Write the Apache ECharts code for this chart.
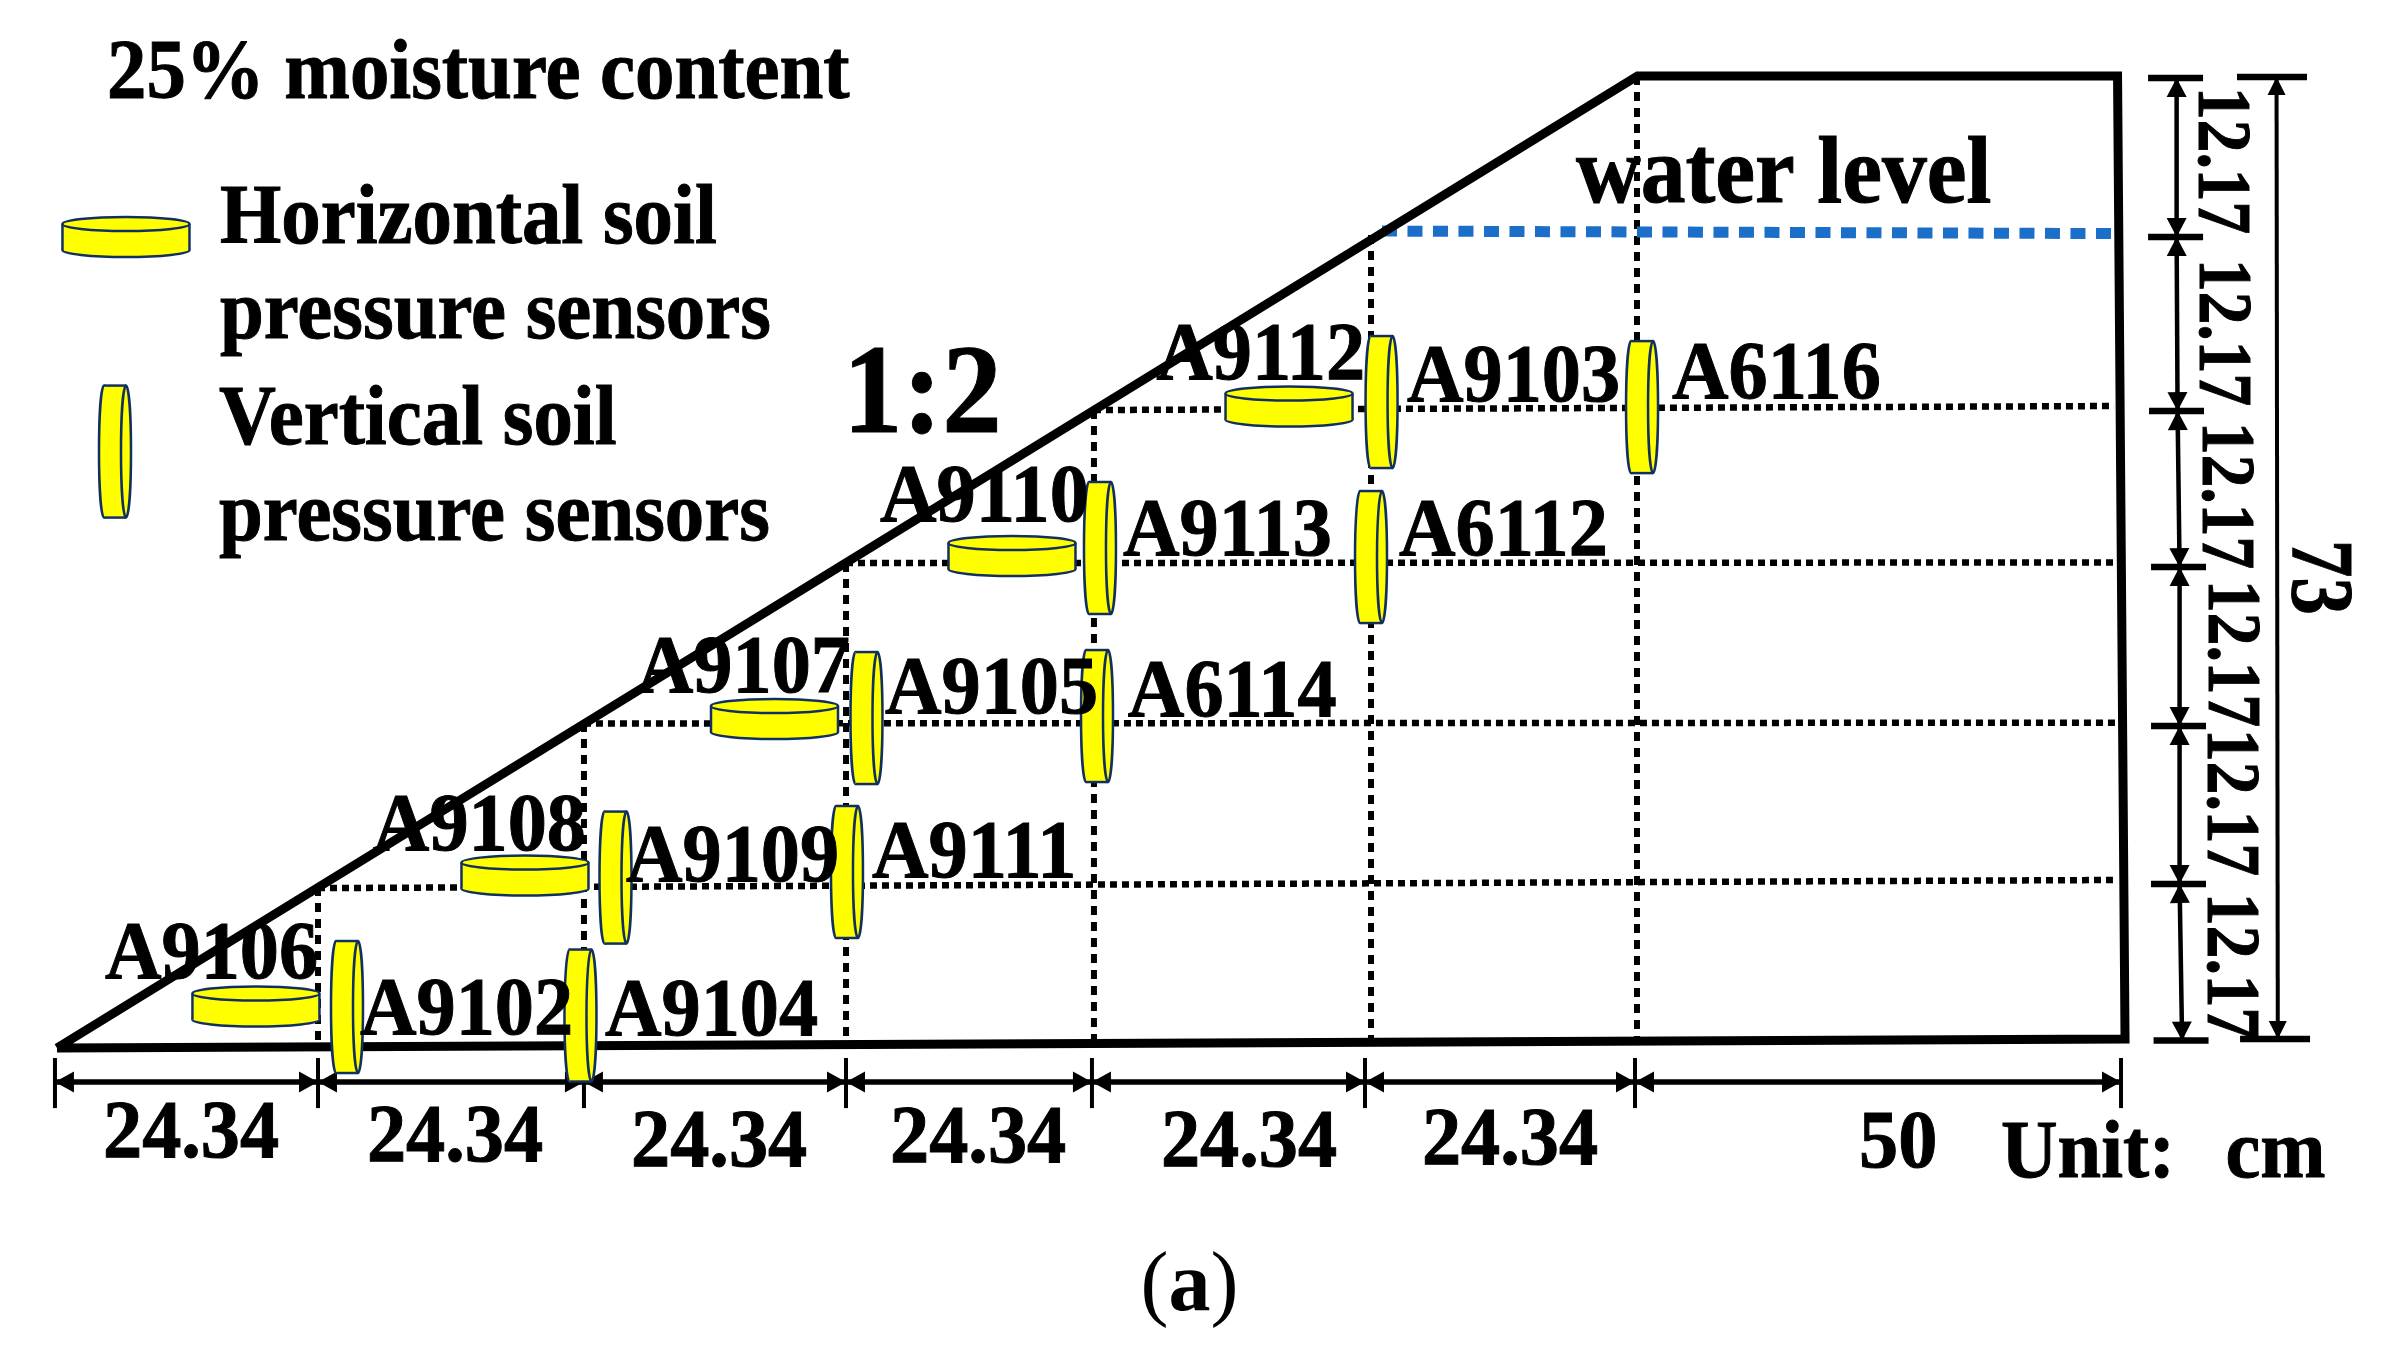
<!DOCTYPE html>
<html>
<head>
<meta charset="utf-8">
<title>Sensor layout</title>
<script src="https://cdn.jsdelivr.net/npm/echarts@6/dist/echarts.min.js"></script>
<style>
  html, body { margin: 0; background: #fff; }
  #chart { width: 2387px; height: 1345px; }
</style>
</head>
<body>
<div id="chart"></div>
<script>
// everything below is in cm
const outline = [[0, 0], [149.81, 72.99], [195.31, 72.99], [196.02, 0.68], [0, 0]];
const stationLines = [
  [24.74, 12.09, 24.74, 0.15], [49.95, 24.4, 49.95, 0.3], [74.79, 36.42, 74.79, 0.45],
  [98.29, 47.91, 98.29, 0.53], [124.55, 61.05, 124.55, 0.6], [149.76, 72.99, 149.76, 0.68],
];
const levelLines = [
  [24.74, 12.01, 195.17, 12.62], [49.95, 24.37, 195.17, 24.43],
  [74.79, 36.42, 195.17, 36.46], [98.29, 47.91, 194.98, 48.21],
];
const waterLine = [[125.59, 61.35, 194.88, 61.16]];

const widthTicks = [-0.19, 24.74, 49.95, 74.79, 98.1, 123.98, 149.57, 195.64];
const widthTickTop = -0.75;
const widthTickBottom = -4.51;
const widthArrowY = -2.55;

const heightBars = [
  [200.81, 72.84], [200.81, 60.9], [200.9, 47.83], [201.09, 36.12],
  [201.09, 24.18], [201.09, 12.32], [201.33, 0.56],
];
const totalBars = [[209.95, 72.91], [210.24, 0.68]];
const totalArrow = [[210.38, 72.91, 210.5, 0.68]];

const horizontalSensors = [
  [6.54, 60.9], [90.52, 36.95], [116.78, 48.17], [68.01, 24.71], [44.36, 12.95], [18.86, 3.12],
];
const verticalSensors = [
  [5.5, 44.79], [98.86, 37.55], [76.73, 24.78], [98.58, 24.93], [125.55, 48.51], [150.24, 48.13],
  [124.55, 36.87], [52.94, 12.8], [74.88, 13.22], [27.49, 3.08], [49.62, 2.44],
];

const legendTexts = [
  [4.74, 71.49, '25% moisture content'],
  [15.45, 60.6, 'Horizontal soil'],
  [15.45, 53.47, 'pressure sensors'],
  [15.36, 45.51, 'Vertical soil'],
  [15.36, 38.3, 'pressure sensors'],
];
const slopeText = [[74.5, 46.56, '1:2']];
const waterText = [[143.98, 63.72, 'water level']];
const sensorTexts = [
  [78.01, 39.72, 'A9110'], [101.04, 37.17, 'A9113'], [127.2, 37.17, 'A6112'],
  [104.2, 50.39, 'A9112'], [127.96, 48.73, 'A9103'], [153.08, 49.0, 'A6116'],
  [54.96, 26.88, 'A9107'], [78.48, 25.31, 'A9105'], [101.5, 25.08, 'A6114'],
  [29.94, 15.02, 'A9108'], [53.93, 12.69, 'A9109'], [77.25, 12.99, 'A9111'],
  [4.55, 5.44, 'A9106'], [28.72, 1.2, 'A9102'], [51.94, 1.13, 'A9104'],
];
const widthTexts = [
  [4.36, -8.0, '24.34'], [29.38, -8.31, '24.34'], [54.41, -8.68, '24.34'],
  [78.96, -8.41, '24.34'], [104.64, -8.71, '24.34'], [129.38, -8.52, '24.34'],
  [170.81, -8.79, '50'],
];
const unitTexts = [[184.27, -9.54, 'Unit:'], [205.55, -9.54, 'cm']];
const heightTexts = [
  [203.22, 72.16, '12.17'], [203.32, 59.25, '12.17'], [203.6, 47.01, '12.17'],
  [204.17, 35.14, '12.17'], [204.08, 23.95, '12.17'], [204.08, 11.64, '12.17'],
];
const totalText = [[212.13, 38.15, '73']];
const captionAt = [102.7, -19.6];

const SERIF = '"Liberation Serif", "Times New Roman", serif';
const YELLOW = '#ffff00';
const NAVY = '#12305f';

// text sits on its baseline; zrender's middle line is about .23em above it here
function textSeries(rows, size, rotation, scaleX) {
  return {
    type: 'custom', clip: false, silent: true, z: 6, data: rows.map((r) => [r[0], r[1]]),
    renderItem(params, api) {
      const row = rows[params.dataIndex];
      const p = api.coord([row[0], row[1]]);
      return {
        type: 'text', x: p[0], y: p[1], rotation: rotation || 0, scaleX: scaleX || 1,
        style: {
          text: row[2], x: 0, y: -0.23 * size, fill: '#000', stroke: '#000', lineWidth: 1,
          font: `bold ${size}px ${SERIF}`, align: 'left', verticalAlign: 'middle',
        },
      };
    },
  };
}

function segmentSeries(rows, lineStyle, z) {
  return {
    type: 'custom', clip: false, silent: true, z: z, data: rows,
    renderItem(params, api) {
      const r = rows[params.dataIndex];
      const a = api.coord([r[0], r[1]]);
      const b = api.coord([r[2], r[3]]);
      return {
        type: 'line',
        shape: { x1: a[0], y1: a[1], x2: b[0], y2: b[1] },
        style: Object.assign({ stroke: '#000', fill: null }, lineStyle),
      };
    },
  };
}

function barSeries(rows, halfWidth) {
  return {
    type: 'custom', clip: false, silent: true, z: 4, data: rows,
    renderItem(params, api) {
      const p = api.coord(rows[params.dataIndex]);
      return {
        type: 'line',
        shape: { x1: p[0] - halfWidth, y1: p[1], x2: p[0] + halfWidth, y2: p[1] },
        style: { stroke: '#000', lineWidth: 6.5 },
      };
    },
  };
}

function arrowSeries(rows, lineWidth, len, wide) {
  return {
    type: 'custom', clip: false, silent: true, z: 4, data: rows,
    renderItem(params, api) {
      const r = rows[params.dataIndex];
      const a = api.coord([r[0], r[1]]);
      const b = api.coord([r[2], r[3]]);
      const d = Math.hypot(b[0] - a[0], b[1] - a[1]);
      const ux = (b[0] - a[0]) / d;
      const uy = (b[1] - a[1]) / d;
      const head = (tip, dir) => {
        const bx = tip[0] + dir * ux * len;
        const by = tip[1] + dir * uy * len;
        return {
          type: 'polygon',
          shape: { points: [tip, [bx - uy * wide / 2, by + ux * wide / 2], [bx + uy * wide / 2, by - ux * wide / 2]] },
          style: { fill: '#000' },
        };
      };
      return {
        type: 'group',
        children: [
          { type: 'line', shape: { x1: a[0], y1: a[1], x2: b[0], y2: b[1] }, style: { stroke: '#000', lineWidth } },
          head(a, 1),
          head(b, -1),
        ],
      };
    },
  };
}

function sensorStyle() {
  return { fill: YELLOW, stroke: NAVY, lineWidth: 2.5 };
}

// flat disc seen from the side, cap on top
const horizontalDisc = {
  type: 'custom', clip: false, silent: true, z: 5, data: horizontalSensors,
  renderItem(params, api) {
    const p = api.coord(horizontalSensors[params.dataIndex]);
    const w = 127, h = 40, ry = 7;
    const left = p[0] - w / 2, top = p[1] - h / 2 + ry, bottom = p[1] + h / 2 - ry;
    return {
      type: 'group',
      children: [
        { type: 'ellipse', shape: { cx: p[0], cy: bottom, rx: w / 2, ry }, style: sensorStyle() },
        { type: 'rect', shape: { x: left, y: top, width: w, height: bottom - top }, style: { fill: YELLOW } },
        { type: 'line', shape: { x1: left, y1: top, x2: left, y2: bottom }, style: sensorStyle() },
        { type: 'line', shape: { x1: left + w, y1: top, x2: left + w, y2: bottom }, style: sensorStyle() },
        { type: 'ellipse', shape: { cx: p[0], cy: top, rx: w / 2, ry }, style: sensorStyle() },
      ],
    };
  },
};

// same disc stood on its edge, cap on the right
const verticalDisc = {
  type: 'custom', clip: false, silent: true, z: 5, data: verticalSensors,
  renderItem(params, api) {
    const p = api.coord(verticalSensors[params.dataIndex]);
    const w = 32, h = 132, rx = 5;
    const top = p[1] - h / 2, left = p[0] - w / 2 + rx, right = p[0] + w / 2 - rx;
    return {
      type: 'group',
      children: [
        { type: 'ellipse', shape: { cx: left, cy: p[1], rx, ry: h / 2 }, style: sensorStyle() },
        { type: 'rect', shape: { x: left, y: top, width: right - left, height: h }, style: { fill: YELLOW } },
        { type: 'line', shape: { x1: left, y1: top, x2: right, y2: top }, style: sensorStyle() },
        { type: 'line', shape: { x1: left, y1: top + h, x2: right, y2: top + h }, style: sensorStyle() },
        { type: 'ellipse', shape: { cx: right, cy: p[1], rx, ry: h / 2 }, style: sensorStyle() },
      ],
    };
  },
};

const widthArrows = widthTicks.slice(1).map((x, i) => [widthTicks[i], widthArrowY, x, widthArrowY]);
const widthTickLines = widthTicks.map((x) => [x, widthTickTop, x, widthTickBottom]);
const heightArrows = heightBars.slice(1).map((b, i) => [heightBars[i][0] + 0.1, heightBars[i][1], b[0] + 0.1, b[1]]);

const caption = {
  type: 'custom', clip: false, silent: true, z: 6, data: [captionAt],
  renderItem(params, api) {
    const p = api.coord(captionAt);
    return {
      type: 'text', x: p[0], y: p[1],
      style: {
        text: '{p|(}{a|a}{p|)}', x: 0, y: -21, align: 'left', verticalAlign: 'middle',
        rich: {
          p: { font: `84px ${SERIF}`, fill: '#000' },
          a: { font: `bold 84px ${SERIF}`, fill: '#000' },
        },
      },
    };
  },
};

const chart = echarts.init(document.getElementById('chart'), null, { renderer: 'canvas' });
chart.setOption({
  animation: false,
  backgroundColor: '#fff',
  grid: { left: 0, right: 0, top: 0, bottom: 0, containLabel: false },
  xAxis: { type: 'value', min: -5.4, max: 220.85, show: false },
  yAxis: { type: 'value', min: -22.3, max: 78.7, show: false },
  series: [
    segmentSeries(levelLines, { lineWidth: 6.5, lineDash: [7, 5] }, 1),
    segmentSeries(stationLines, { lineWidth: 6, lineDash: [9, 7] }, 1),
    segmentSeries(waterLine, { stroke: '#1b6fc8', lineWidth: 11, lineDash: [15, 10.5] }, 2),
    {
      type: 'line', data: outline, symbol: 'none', clip: false, silent: true, z: 3,
      lineStyle: { color: '#000', width: 9, join: 'miter' },
    },
    segmentSeries(widthTickLines, { lineWidth: 4 }, 4),
    arrowSeries(widthArrows, 5.5, 19, 21),
    barSeries(heightBars, 27.5),
    arrowSeries(heightArrows, 4.5, 19, 20),
    barSeries(totalBars, 35),
    arrowSeries(totalArrow, 4, 18, 18),
    horizontalDisc,
    verticalDisc,
    textSeries(legendTexts, 84, 0, 0.938),
    textSeries(slopeText, 128, 0, 0.93),
    textSeries(waterText, 95, 0, 0.943),
    textSeries(sensorTexts, 82, 0, 0.955),
    textSeries(widthTexts, 82, 0, 0.955),
    textSeries(unitTexts, 82, 0, 0.955),
    textSeries(heightTexts, 76, -Math.PI / 2, 0.86),
    textSeries(totalText, 88, -Math.PI / 2, 0.85),
    caption,
  ],
});
window.addEventListener('resize', () => chart.resize());
</script>
</body>
</html>
